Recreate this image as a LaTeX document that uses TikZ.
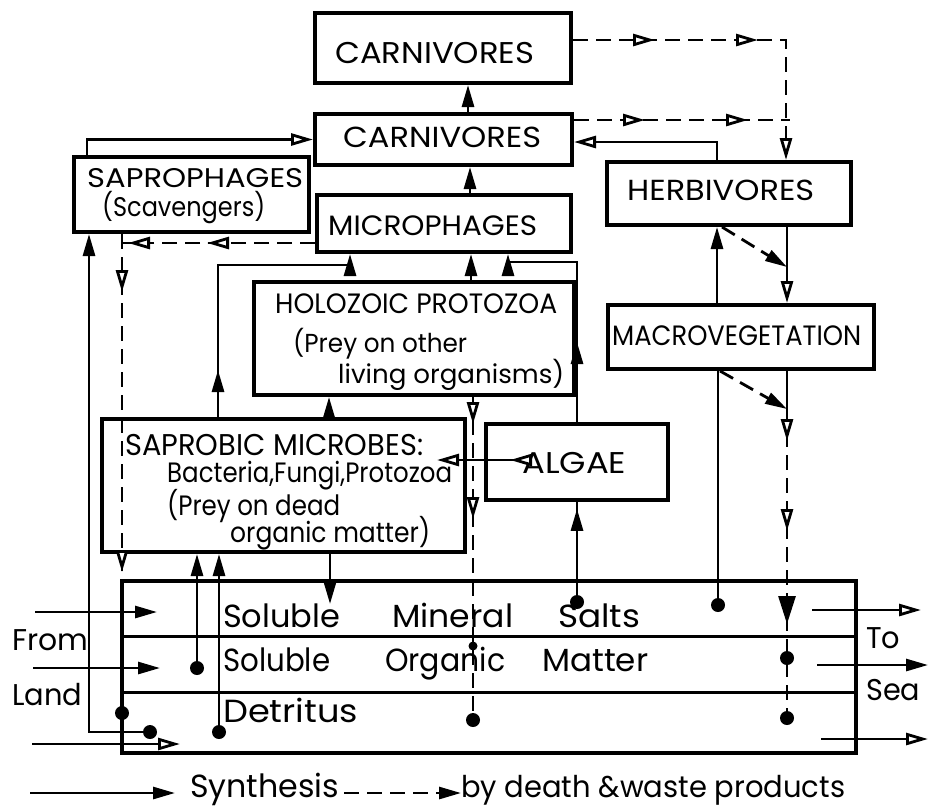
\documentclass[tikz,border=0pt]{standalone}
\usepackage{fontspec}
\setmainfont{Poppins}
\usetikzlibrary{arrows.meta,decorations.markings}
\newcommand\tw[2]{\resizebox{#1pt}{\height}{#2}}
\tikzset{
 conn/.style={line width=2.8pt},
 dconn/.style={line width=2.8pt, dash pattern=on 15pt off 8pt},
 box/.style={draw, line width=4pt, anchor=north west, inner sep=0pt},
 txt/.style={anchor=base west, inner sep=0pt},
 dot/.style={circle, fill, inner sep=0pt, minimum size=14pt},
 fTri/.tip={Triangle[length=22pt,width=12pt]},
 oTri/.tip={Triangle[open,length=22pt,width=12pt,fill=white]},
 bTri/.tip={Triangle[length=28pt,width=17pt]},
 fmark/.style={postaction={decorate,solid,decoration={markings,mark=at position #1 with {\arrow{fTri}}}}},
 omark/.style={postaction={decorate,solid,decoration={markings,mark=at position #1 with {\arrow{oTri}}}}},
 bmark/.style={postaction={decorate,solid,decoration={markings,mark=at position #1 with {\arrow{bTri}}}}},
}
\begin{document}
\begin{tikzpicture}[x=1pt,y=-1pt]
\useasboundingbox (0,0) rectangle (928,807);
% boxes
\node[box, minimum width=256pt, minimum height=70pt] (c1) at (313,11) {};
\node[box, minimum width=257pt, minimum height=51pt] (c2) at (313,112) {};
\node[box, minimum width=235pt, minimum height=75pt] (sapro) at (72,155) {};
\node[box, minimum width=254pt, minimum height=57pt] (micro) at (315,193) {};
\node[box, minimum width=244pt, minimum height=63pt] (herb) at (605,160) {};
\node[box, minimum width=320pt, minimum height=113pt] (holo) at (252,280) {};
\node[box, minimum width=266pt, minimum height=64pt] (macro) at (606,303) {};
\node[box, minimum width=182pt, minimum height=76pt] (algae) at (484,422) {};
\node[box, minimum width=363pt, minimum height=133pt] (sapb) at (100,417) {};
\node[box, minimum width=734pt, minimum height=172pt] (big) at (120,579) {};
\draw[line width=3pt] ([yshift=-57pt]big.north west) -- ([yshift=-57pt]big.north east);
\draw[line width=3pt] ([yshift=-113pt]big.north west) -- ([yshift=-113pt]big.north east);
% texts
\node[txt, font=\fontsize{30}{30}\selectfont] (t1) at (335,63) {\tw{199}{CARNIVORES}};
\node[txt, font=\fontsize{29}{29}\selectfont] (t2) at (343,147) {\tw{198}{CARNIVORES}};
\node[txt, font=\fontsize{27}{27}\selectfont] (t3) at (87,187) {\tw{216}{SAPROPHAGES}};
\node[txt, font=\fontsize{27}{27}\selectfont] (t4) at (102,216) {\tw{163}{(Scavengers)}};
\node[txt, font=\fontsize{28}{28}\selectfont] (t5) at (328,235) {\tw{209}{MICROPHAGES}};
\node[txt, font=\fontsize{29}{29}\selectfont] (t6) at (627,200) {\tw{187}{HERBIVORES}};
\node[txt, font=\fontsize{28}{28}\selectfont] (t7) at (275,313) {\tw{282}{HOLOZOIC PROTOZOA}};
\node[txt, font=\fontsize{26}{26}\selectfont] (t8) at (293,352) {\tw{174}{(Prey on other}};
\node[txt, font=\fontsize{26}{26}\selectfont] (t9) at (338,383) {\tw{226}{living organisms)}};
\node[txt, font=\fontsize{28}{28}\selectfont] (t10) at (612,345) {\tw{249}{MACROVEGETATION}};
\node[txt, font=\fontsize{30}{30}\selectfont] (t11) at (522,473) {\tw{104}{ALGAE}};
\node[txt, font=\fontsize{30}{30}\selectfont] (t12) at (125,455) {\tw{298}{SAPROBIC MICROBES:}};
\node[txt, font=\fontsize{28}{28}\selectfont] (t13) at (167,482) {\tw{285}{Bacteria,Fungi,Protozoa}};
\node[txt, font=\fontsize{28}{28}\selectfont] (t14) at (167,515) {\tw{173}{(Prey on dead}};
\node[txt, font=\fontsize{28}{28}\selectfont] (t15) at (230,542) {\tw{200}{organic matter)}};
\node[txt, font=\fontsize{32}{32}\selectfont] (r1a) at (223,627) {\tw{117}{Soluble}};
\node[txt, font=\fontsize{32}{32}\selectfont] (r1b) at (392,627) {\tw{121}{Mineral}};
\node[txt, font=\fontsize{32}{32}\selectfont] (r1c) at (558,627) {\tw{82}{Salts}};
\node[txt, font=\fontsize{32}{32}\selectfont] (r2a) at (223,671) {\tw{107}{Soluble}};
\node[txt, font=\fontsize{32}{32}\selectfont] (r2b) at (385,671) {\tw{120}{Organic}};
\node[txt, font=\fontsize{32}{32}\selectfont] (r2c) at (542,671) {\tw{106}{Matter}};
\node[txt, font=\fontsize{32}{32}\selectfont] (r3a) at (223,722) {\tw{135}{Detritus}};
\node[txt, font=\fontsize{30}{30}\selectfont] (from) at (12,650) {\tw{76}{From}};
\node[txt, font=\fontsize{30}{30}\selectfont] (land) at (12,705) {\tw{70}{Land}};
\node[txt, font=\fontsize{30}{30}\selectfont] (to) at (866,648) {\tw{34}{To}};
\node[txt, font=\fontsize{30}{30}\selectfont] (sea) at (866,700) {\tw{54}{Sea}};
\node[txt, font=\fontsize{32}{32}\selectfont] (syn) at (190,797) {\tw{149}{Synthesis}};
\node[txt, font=\fontsize{30}{30}\selectfont] (death) at (461,797) {\tw{384}{by death \&waste products}};
% dots
\node[dot] (dsl) at (150,732) {};
\node[dot] (dl) at (122,713) {};
\node[dot] (ds1) at (197,668) {};
\node[dot] (ds2) at (219,732) {};
\node[dot] (da) at (577,602) {};
\node[dot] (dm) at (718,605) {};
\node[dot, minimum size=9pt] (dh1) at (473,646) {};
\node[dot] (dh2) at (473,720) {};
\node[dot] (dr2) at (787,658) {};
\node[dot] (dr3) at (787,718) {};
% top connectors
\draw[conn,-{fTri}] ([xshift=155pt]c2.north west) -- ([xshift=155pt]c1.south west);
\draw[conn,-{fTri}] ([xshift=155pt]micro.north west) -- ([xshift=157pt]c2.south west);
\draw[conn,-{oTri}] ([xshift=15pt]sapro.north west) |- (c2.west);
\draw[conn,-{oTri}] ([xshift=112pt]herb.north west) |- ([yshift=-2.5pt]c2.east);
\draw[dconn,-{oTri}, omark=82pt, omark=185pt] ([yshift=8pt]c1.east) -| ([xshift=181pt]herb.north west);
\draw[dconn, omark=71pt, omark=174pt] ([yshift=19.5pt]c2.east) -- ++(216,0);
% right side
\draw[conn] ([xshift=182pt]herb.south west) -- ++(0,40) coordinate (j1);
\draw[dconn,-{oTri}] (j1) -- ([xshift=181pt]macro.north west);
\draw[dconn,-{fTri}] ([xshift=117pt]herb.south west) -- (j1);
\draw[conn,-{fTri}] ([xshift=111pt]macro.north west) -- ([xshift=112pt]herb.south west);
\draw[conn] (dm) -- (dm |- macro.south);
\draw[conn] ([xshift=181pt]macro.south west) -- ++(0,38) coordinate (j2);
\draw[dconn,-{fTri}] ([xshift=114pt]macro.south west) -- (j2);
\draw[dconn, omark=32pt, omark=122pt, bmark=215pt] (j2) -- (dr3);
% left side
\draw[dconn, omark=108pt, omark=187pt, omark=242pt, omark=522pt] ([yshift=-19.5pt]micro.west) -| (dl);
\draw[conn] ([xshift=50pt]sapro.south west) -- ++(0,11);
\draw[conn,-{fTri}] (dsl) -| ([xshift=17pt]sapro.south west);
\draw[conn,-{fTri}, fmark=47pt] ([xshift=118pt]sapb.north west) -- ++(0,-152) -| ([xshift=35pt]micro.south west);
\draw[conn,-{fTri}] ([xshift=219pt]holo.north west) -- ([xshift=156pt]micro.south west);
\draw[conn,-{fTri}, fmark=80pt] ([xshift=93pt]algae.north west) -- ++(0,-160) -| ([xshift=193pt]micro.south west);
\draw[conn,-{fTri}] ([xshift=229pt]sapb.north west) -- ([xshift=77pt]holo.south west);
\draw[dconn, omark=27pt, omark=122pt] ([xshift=221pt]holo.south west) -- (dh2);
\draw[conn,-{oTri}, omark=12pt] ([xshift=38pt,yshift=2pt]algae.west) -- ++(-85,0);
\draw[conn, fmark=86pt] (da) -- (da |- algae.south);
\draw[conn,-{fTri}] ([xshift=230pt]sapb.south west) -- ++(0,50);
\draw[conn,-{fTri}] (ds1) -- (ds1 |- sapb.south);
\draw[conn,-{fTri}] (ds2) -- (ds2 |- sapb.south);
% from land / to sea
\coordinate (fl1) at (35,612); \coordinate (fl1e) at (157,612);
\coordinate (fl2) at (33,668); \coordinate (fl2e) at (160,668);
\coordinate (fl3) at (32,744); \coordinate (fl3e) at (180,744);
\draw[conn,-{fTri}] (fl1) -- (fl1e);
\draw[conn,-{fTri}] (fl2) -- (fl2e);
\draw[conn,-{oTri}] (fl3) -- (fl3e);
\coordinate (ts1) at (812,610); \coordinate (ts1e) at (921,610);
\coordinate (ts2) at (817,665); \coordinate (ts2e) at (928,665);
\coordinate (ts3) at (821,739); \coordinate (ts3e) at (928,739);
\draw[conn,-{oTri}] (ts1) -- (ts1e);
\draw[conn,-{fTri}] (ts2) -- (ts2e);
\draw[conn,-{oTri}] (ts3) -- (ts3e);
% legend
\coordinate (lg1) at (30,793); \coordinate (lg1e) at (175,793);
\coordinate (lg2) at (344,793); \coordinate (lg2e) at (461,793);
\draw[conn,-{fTri}] (lg1) -- (lg1e);
\draw[dconn,-{fTri}] (lg2) -- (lg2e);
\end{tikzpicture}
\end{document}
